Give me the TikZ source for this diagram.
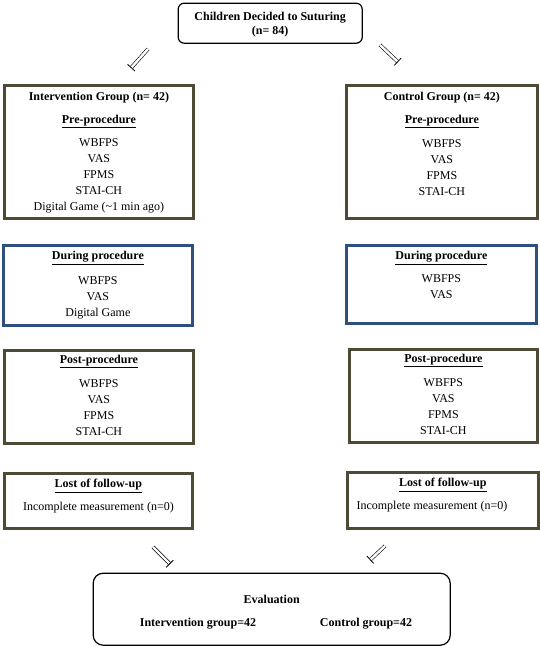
\documentclass[tikz,border=0pt]{standalone}
\usepackage{fontspec}
\setmainfont{Liberation Serif}
\usetikzlibrary{arrows.meta}
\definecolor{olivebox}{HTML}{4F4A36}
\definecolor{bluebox}{HTML}{2F4F7F}

\begin{document}
\begin{tikzpicture}[x=1pt, y=-1pt, font=\fontsize{12}{16}\selectfont,
		frame/.style={draw=olivebox, line width=2.4pt, minimum width=#1, anchor=north west, inner sep=0pt},
		dframe/.style={frame=#1, draw=bluebox},
		rframe/.style={draw=black, line width=1.2pt, rounded corners=#1, anchor=north west, inner sep=0pt},
		txt/.style={anchor=north, align=center, inner sep=0pt},
		hollow/.style={double=white, double distance=2.4pt, line width=0.6pt, -{Bar[width=10pt, line width=0.8pt]}}]
		\useasboundingbox (0,0) rectangle (539,646);
		% frames
		\node[rframe=6pt, minimum width=184pt, minimum height=40pt] (top) at (177.6,2.6) {};
		\node[frame=189pt, minimum height=133pt] (lpre) at (3.2,84.2) {};
		\node[frame=191pt, minimum height=133pt] (rpre) at (345.2,84.2) {};
		\node[dframe=189pt, minimum height=80pt] (ldur) at (2.2,244.2) {};
		\node[dframe=190pt, minimum height=78pt] (rdur) at (345.2,244.2) {};
		\node[frame=189pt, minimum height=93pt] (lpost) at (3.2,349.2) {};
		\node[frame=188pt, minimum height=93pt] (rpost) at (348.2,348.2) {};
		\node[frame=188pt, minimum height=55pt] (llost) at (3.2,472.2) {};
		\node[frame=191pt, minimum height=56pt] (rlost) at (346.2,471.2) {};
		\node[rframe=10pt, minimum width=357pt, minimum height=72pt] (eval) at (92.6,572.6) {};
		% texts
		\node[txt, font=\fontsize{12}{14}\selectfont\bfseries] (topT) at ([yshift=-9pt]top.north) {Children Decided to Suturing\\(n= 84)};
		\node[txt] (lpreT) at ([yshift=-8pt]lpre.north) {\textbf{Intervention Group (n= 42)}\\[7pt]\textbf{\underline{Pre-procedure}}\\[7pt]WBFPS\\VAS\\FPMS\\STAI-CH\\Digital Game (\textasciitilde1 min ago)};
		\node[txt] (rpreT) at ([yshift=-8pt]rpre.north) {\textbf{Control Group (n= 42)}\\[7pt]\textbf{\underline{Pre-procedure}}\\[8pt]WBFPS\\VAS\\FPMS\\STAI-CH};
		\node[txt] (ldurT) at ([yshift=-7pt]ldur.north) {\textbf{\underline{During procedure}}\\[9pt]WBFPS\\VAS\\Digital Game};
		\node[txt] (rdurT) at ([yshift=-7pt]rdur.north) {\textbf{\underline{During procedure}}\\[7pt]WBFPS\\VAS};
		\node[txt] (lpostT) at ([yshift=-6pt]lpost.north) {\textbf{\underline{Post-procedure}}\\[8pt]WBFPS\\VAS\\FPMS\\STAI-CH};
		\node[txt] (rpostT) at ([yshift=-6pt]rpost.north) {\textbf{\underline{Post-procedure}}\\[8pt]WBFPS\\VAS\\FPMS\\STAI-CH};
		\node[txt] (llostT) at ([yshift=-7pt]llost.north) {\textbf{\underline{Lost of follow-up}}\\[7pt]Incomplete measurement (n=0)};
		\node[txt] (rlostT) at ([yshift=-7pt]rlost.north) {\textbf{\underline{Lost of follow-up}}\\[7pt]\hspace*{-22pt}Incomplete measurement (n=0)};
		\node[txt, font=\fontsize{12}{14}\selectfont\bfseries] (evalT) at ([yshift=-22pt]eval.north) {Evaluation};
		\node[font=\fontsize{12}{14}\selectfont\bfseries] (evalI) at (198,624) {Intervention group=42};
		\node[font=\fontsize{12}{14}\selectfont\bfseries] (evalC) at (366,624) {Control group=42};
		% arrows
		\coordinate (s1) at (148,49); \coordinate (e1) at (131,68);
		\coordinate (s2) at (380,45); \coordinate (e2) at (398,62);
		\coordinate (s3) at (153,547); \coordinate (e3) at (170,564);
		\coordinate (s4) at (385,546); \coordinate (e4) at (370,560);
		\foreach \i in {1,...,4}
			\draw[hollow] (s\i) -- (e\i);
	\end{tikzpicture}
\end{document}
